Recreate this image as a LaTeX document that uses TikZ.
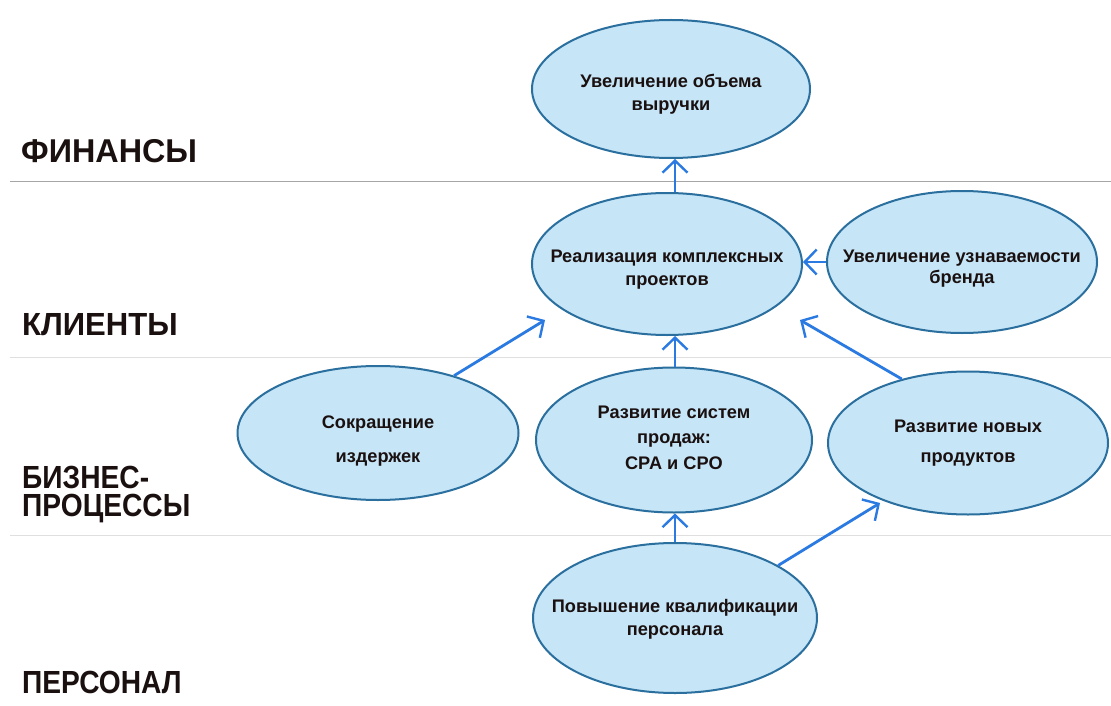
\documentclass[tikz,border=0pt]{standalone}
\usepackage{fontspec}
\setmainfont{Liberation Sans}
\newfontfamily\lblW{Liberation Sans}[FakeStretch=0.98]
\newfontfamily\lblK{Liberation Sans}[FakeStretch=0.97]
\newfontfamily\lblN{Liberation Sans}[FakeStretch=0.88]
\usetikzlibrary{shapes.geometric,arrows.meta}
\definecolor{efill}{HTML}{C6E6F8}
\definecolor{edraw}{HTML}{2A6F9E}
\definecolor{arr}{HTML}{2A7AE2}
\definecolor{lblc}{HTML}{1A1010}
% \etxt[leading]{downshift}{lines}
\newcommand{\etxt}[3][23]{\smash{\makebox[0pt]{\raisebox{-#2pt}{\fontsize{18.2}{#1}\selectfont\begin{tabular}{@{}c@{}}#3\end{tabular}}}}}
\begin{document}
\begin{tikzpicture}[x=1pt,y=-1pt,
  goal/.style={ellipse, draw=edraw, line width=2pt, fill=efill, inner sep=0pt, font=\bfseries, text=lblc},
  link/.style={draw=arr, line width=2.8pt, -{Straight Barb[length=12pt,width=25pt,line width=2.4pt]}},
  level/.style={anchor=base west, inner sep=0pt, align=left, text=lblc},
  sepline/.style={line width=1pt}]
\useasboundingbox (0,0) rectangle (1111,706);
\fill[white] (0,0) rectangle (1111,706);
% separators
\draw[sepline, draw=gray!70] (10,181) -- (1111,181);
\draw[sepline, draw=gray!25] (10,357) -- (1111,357);
\draw[sepline, draw=gray!25] (10,535) -- (1111,535);
% level labels
\node[level, font=\lblW\bfseries\fontsize{33}{28}\selectfont] (lf) at (21,162) {ФИНАНСЫ};
\node[level, font=\lblK\bfseries\fontsize{32}{28}\selectfont] (lk) at (22,335) {КЛИЕНТЫ};
\node[level, font=\lblN\bfseries\fontsize{32}{28}\selectfont] (lb) at (22,516) {БИЗНЕС-\\ПРОЦЕССЫ};
\node[level, font=\lblN\bfseries\fontsize{32}{28}\selectfont] (lp) at (22,693) {ПЕРСОНАЛ};
% goals
\node[goal, minimum width=278pt, minimum height=138pt] (e1) at (671,89) {\etxt{9.4}{Увеличение объема\\выручки}};
\node[goal, minimum width=270pt, minimum height=142pt] (e2) at (667,264) {\etxt{10}{Реализация комплексных\\проектов}};
\node[goal, minimum width=270pt, minimum height=142pt] (e3) at (962,262) {\etxt[21]{11.5}{Увеличение узнаваемости\\бренда}};
\node[goal, minimum width=281pt, minimum height=134pt] (e4) at (378,433) {\etxt[34]{9.7}{Сокращение\\издержек}};
\node[goal, minimum width=276pt, minimum height=145pt] (e5) at (674,440) {\etxt[25.5]{3}{Развитие систем\\продаж:\\CPA и CPO}};
\node[goal, minimum width=280pt, minimum height=143pt] (e6) at (968,443) {\etxt[30]{2.5}{Развитие новых\\продуктов}};
\node[goal, minimum width=284pt, minimum height=150pt] (e7) at (675,618) {\etxt[23]{5.5}{Повышение квалификации\\персонала}};
% free ends
\coordinate (t4) at (545,320);
\coordinate (t6) at (800,320);
\coordinate (t7) at (880,503);
% links
\draw[link] (e2.north -| e7.north) -- (e1.south -| e7.north);
\draw[link] (e3.west) -- (e2.east |- e3.west);
\draw[link] (e4.37) -- (t4);
\draw[link] (e5.north -| e7.north) -- (e2.south -| e7.north);
\draw[link] (e6.136) -- (t6);
\draw[link] (e7.north) -- (e5.south -| e7.north);
\draw[link] (e7.27) -- (t7);
\end{tikzpicture}
\end{document}
